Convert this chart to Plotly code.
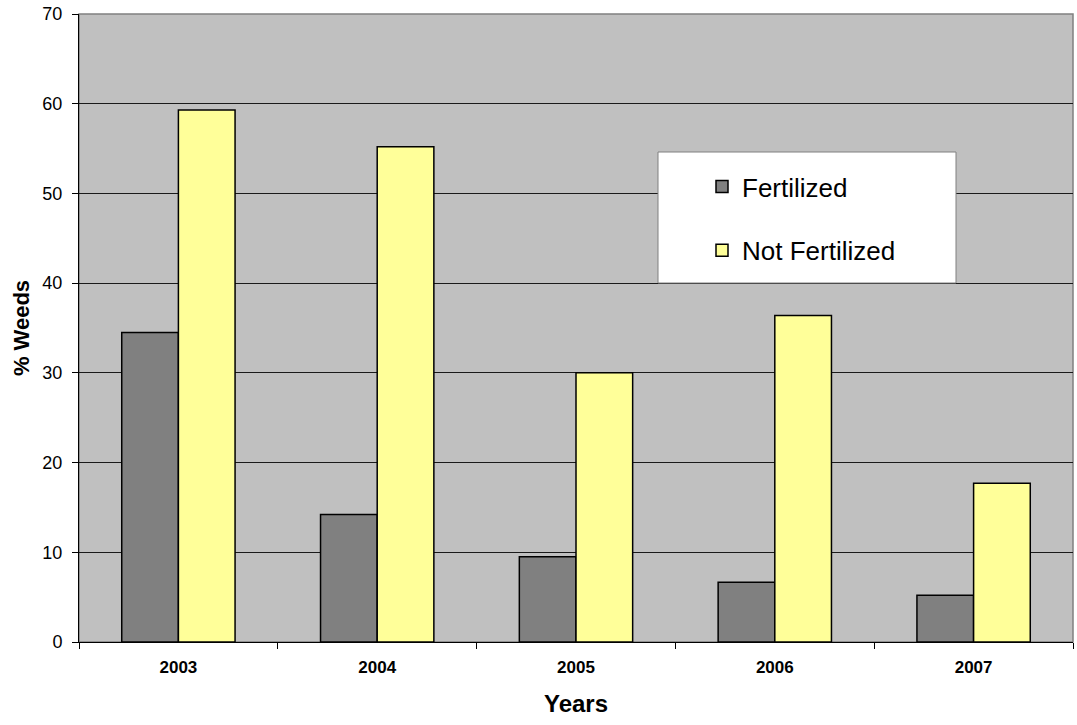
import plotly.graph_objects as go

years = ["2003", "2004", "2005", "2006", "2007"]
fertilized = [34.5, 14.2, 9.5, 6.65, 5.2]
not_fertilized = [59.3, 55.2, 30.0, 36.4, 17.7]
y_ticks = [0, 10, 20, 30, 40, 50, 60, 70]

fig = go.Figure()
fig.add_trace(go.Bar(
    x=years, y=fertilized, name="Fertilized", legendgroup="a",
    marker=dict(color="#808080", line=dict(color="#000000", width=1.5)),
))
fig.add_trace(go.Bar(
    x=years, y=not_fertilized, name="Not Fertilized", legendgroup="b",
    marker=dict(color="#FFFF99", line=dict(color="#000000", width=1.5)),
))

# legend frame
fig.add_shape(type="rect", xref="paper", yref="paper",
              x0=(658 - 79) / 994, x1=(956 - 79) / 994,
              y0=(642 - 283) / 628, y1=(642 - 152) / 628,
              fillcolor="white", line=dict(color="#808080", width=1), layer="above")
# plot border (top/right gray)
fig.add_shape(type="rect", xref="x domain", yref="y domain", x0=0, x1=1, y0=0, y1=1,
              line=dict(color="#808080", width=1.5), layer="below")

fig.update_layout(
    width=1077, height=725,
    margin=dict(l=79, r=4, t=14, b=83, autoexpand=False),
    paper_bgcolor="white", plot_bgcolor="#C0C0C0",
    barmode="group", bargap=0.43, bargroupgap=0,
    font=dict(family="Liberation Sans, Arial, sans-serif", color="#000000"),
    showlegend=True,
    legend=dict(x=(702 - 79) / 994, y=(642 - 163) / 628, xanchor="left", yanchor="top",
                bgcolor="rgba(0,0,0,0)", borderwidth=0,
                font=dict(size=26, color="#000000"),
                traceorder="grouped", tracegroupgap=27),
    xaxis=dict(
        type="category", showline=True, linecolor="#000000", linewidth=1,
        ticks="outside", tickson="boundaries", ticklen=6, tickcolor="#000000",
        tickfont=dict(size=17, family="Liberation Sans, Arial, sans-serif", weight="bold"),
        ticklabelstandoff=10,
        title=dict(text="<b>Years</b>", font=dict(size=24), standoff=18),
        showgrid=False, automargin=False,
    ),
    yaxis=dict(
        range=[0, 70], tickvals=y_ticks, showline=True, linecolor="#000000", linewidth=1,
        ticks="outside", ticklen=6, tickcolor="#000000",
        tickfont=dict(size=18), ticklabelstandoff=6,
        showgrid=True, gridcolor="#1a1a1a", gridwidth=1,
        zeroline=False, automargin=False,
        title=dict(text="<b>% Weeds</b>", font=dict(size=22), standoff=6),
    ),
)

fig.write_html(
    "out.html",
    config={"responsive": False, "displayModeBar": False},
    post_script="document.body.style.margin='0';document.body.style.overflow='hidden';",
)
